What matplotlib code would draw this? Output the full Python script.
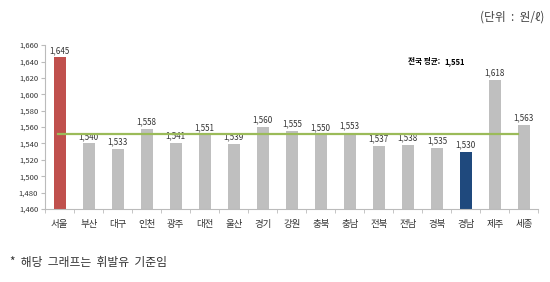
import matplotlib.pyplot as plt

plt.rcParams["font.family"] = ["Noto Sans CJK KR", "DejaVu Sans"]

# regional gasoline prices (won per litre)
regions = ["서울", "부산", "대구", "인천", "광주", "대전", "울산", "경기", "강원",
           "충북", "충남", "전북", "전남", "경북", "경남", "제주", "세종"]
prices = [1645, 1540, 1533, 1558, 1541, 1551, 1539, 1560, 1555,
          1550, 1553, 1537, 1538, 1535, 1530, 1618, 1563]
national_avg = 1551
y_ticks = list(range(1460, 1661, 20))

colors = ["#BFBFBF"] * len(regions)
colors[regions.index("서울")] = "#C0504D"
colors[regions.index("경남")] = "#1F497D"

fig = plt.figure(figsize=(5.5, 2.82), dpi=100)
ax = fig.add_axes([0.082, 0.259, 0.897, 0.581])

x = range(len(regions))
ax.bar(x, [p - 1460 for p in prices], bottom=1460, width=0.42, color=colors, zorder=2)

for i, p in enumerate(prices):
    ax.text(i, p + 3, f"{p:,}", ha="center", va="bottom", fontsize=5.8, color="#333333")

ax.plot([-0.05, len(regions) - 1.2], [national_avg, national_avg], color="#9BBB59", lw=1.6, zorder=3)

ax.set_xlim(-0.5, len(regions) - 0.5)
ax.set_ylim(1460, 1660)
ax.set_yticks(y_ticks)
ax.set_yticklabels([f"{t:,}" for t in y_ticks], fontsize=5.5, color="#333333")
ax.set_xticks(list(x))
ax.set_xticklabels(regions, fontsize=6.8, color="#333333")
ax.set_xticks([i + 0.5 for i in range(-1, len(regions))], minor=True)
ax.tick_params(axis="x", which="major", length=0, pad=8)
ax.tick_params(axis="x", which="minor", length=3, color="#BBBBBB")
ax.tick_params(axis="y", length=3, color="#BBBBBB", pad=2)

for s in ["top", "right"]:
    ax.spines[s].set_visible(False)
for s in ["left", "bottom"]:
    ax.spines[s].set_color("#BBBBBB")
    ax.spines[s].set_linewidth(0.8)

ax.text(13.1, 1640, "전국 평균:", fontsize=5.5, fontweight="bold", ha="right", va="center")
ax.text(13.25, 1640, f"{national_avg:,}", fontsize=5.5, fontweight="bold", ha="left", va="center")

fig.text(0.99, 0.94, "(단위  :  원/ℓ)", fontsize=8.5, ha="right", va="center", color="#444444")
fig.text(0.018, 0.07, "*  해당  그래프는  휘발유  기준임", fontsize=8.5, ha="left", va="center", color="#333333")

fig.savefig("out.png", dpi=100)
